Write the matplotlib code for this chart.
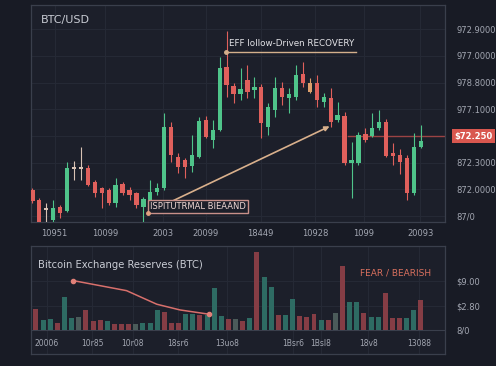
import matplotlib.pyplot as plt
import matplotlib.transforms as mtransforms
import numpy as np

# candles (open, high, low, close)
opens = [88300, 87800, 87350, 86800, 87450, 87250, 89400, 89350, 89415, 88715,
         88400, 88300, 87635, 88600, 88300, 88135, 87435, 87715, 88200, 88385,
         91465, 89965, 89800, 89515, 89965, 91800, 90800, 91300, 94465, 93500,
         93100, 93800, 93300, 93465, 91465, 92300, 93385, 92915, 92965, 94085,
         93635, 93635, 92715, 92885, 91800, 92000, 89635, 89635, 91085, 91015,
         91385, 91715, 90135, 90050, 89885, 88135, 90435]
highs = [88400, 87900, 87650, 87800, 87550, 89700, 89765, 90450, 89550, 88800,
         88465, 88400, 88900, 88715, 88465, 88215, 87950, 88800, 88650, 92135,
         91715, 90150, 89900, 91050, 91965, 92000, 91800, 94965, 96265, 93650,
         94400, 94550, 93965, 93600, 92650, 93965, 93715, 93385, 94550, 94715,
         93900, 94050, 93135, 93385, 92715, 92215, 90715, 91215, 91385, 92165,
         92300, 91850, 90635, 90335, 90050, 91135, 91550]
lows = [87650, 86700, 86700, 86600, 86900, 87200, 88800, 88800, 88500, 87965,
        87400, 87550, 87465, 88050, 87800, 87385, 86550, 87650, 88050, 88300,
        89715, 89150, 88900, 89215, 89900, 90900, 90385, 91250, 92965, 92650,
        92800, 92900, 92885, 90885, 91050, 91965, 92550, 92135, 92800, 93465,
        93150, 92465, 92465, 91465, 91715, 89550, 87885, 89550, 90715, 90965,
        91300, 89950, 89550, 89100, 87800, 88050, 90385]
closes = [87750, 86715, 87300, 87400, 87150, 89400, 89350, 89400, 88550, 88135,
          88150, 87635, 88550, 88165, 88050, 87550, 87850, 88215, 88400, 91465,
          90050, 89465, 89465, 90050, 91750, 90965, 91300, 94415, 93550, 93085,
          93350, 93200, 93465, 91635, 92465, 93385, 92965, 93085, 94050, 93635,
          93215, 92800, 92965, 91715, 92050, 89635, 89800, 91050, 90800, 91415,
          91715, 90000, 90000, 89715, 88135, 90465, 90765]

price_ticks = [87000, 88335, 89670, 91005, 92340, 93675, 95010, 96345]
price_labels = ["87/0", "872.0000", "872.3000", "", "977.1000", "978.8000", "977.0000", "972.9000"]
last_price = 91005
last_label = "$72.250"

top_xticks = [3.2, 10.5, 18.8, 25.0, 32.9, 40.8, 47.8, 55.9]
top_xlabels = ["10951", "10099", "2003", "20099", "18449", "10928", "1099", "20093"]

# exchange reserves bars
reserves = [20.7, 10, 11, 6.7, 32.7, 11.7, 13.3, 20, 9, 10,
            9.3, 6, 6, 6, 6, 6.7, 7.3, 20, 18.3, 6.7,
            6.7, 15.7, 16, 15, 15, 41.7, 14, 11, 10.5, 9,
            12.3, 78.3, 53.3, 42.7, 15, 15, 30.7, 14, 13.3, 15.7,
            10, 10, 16.7, 64.3, 27.7, 27.7, 17.3, 13.3, 13.3, 37.3,
            11.7, 11.7, 11.7, 20, 30]
bar_kind = "rttrttgrrrtrrrgtttrrrttrttt" + "rgrtrttrttrrrtrgrttrttrrrtt"
trend_x = [5.24, 12.7, 16.95, 20.2, 24.3]
trend_y = [49.3, 39.3, 25.7, 20, 15.7]
res_ticks = [0, 24.3, 49]
res_labels = ["8/0", "$2.80", "$9.00"]
bot_xticks = [1.54, 7.87, 13.6, 19.9, 26.8, 36.1, 40.0, 46.6, 53.7]
bot_xlabels = ["20006", "10r85", "10r08", "18sr6", "13uo8", "1Bsr6", "1Bsl8", "18v8", "13088"]

bg = "#181b25"
panel = "#1c1f2a"
grid_c = "#252935"
frame_c = "#3a3f4c"
txt_c = "#a3a7b2"
green = "#4fc48a"
red = "#e0605c"

fig = plt.figure(figsize=(4.96, 3.66), dpi=100, facecolor=bg)
ax = fig.add_axes([0.0625, 0.393, 0.835, 0.593], facecolor=panel)
ax2 = fig.add_axes([0.0625, 0.033, 0.835, 0.295], facecolor=panel)

for a in (ax, ax2):
    for s in a.spines.values():
        s.set_color(frame_c)
        s.set_linewidth(0.9)
    a.yaxis.tick_right()
    a.tick_params(length=0, colors=txt_c, labelsize=6)
    a.set_axisbelow(True)
    a.grid(color=grid_c, linewidth=0.8)

# candles
for i in range(len(opens)):
    o, h, l, c = opens[i], highs[i], lows[i], closes[i]
    if abs(c - o) < 100:
        col = "#d8c2b4"
    elif i == 40:
        col = "#dd9f6c"
    elif c > o:
        col = green
    else:
        col = red
    ax.vlines(i, l, h, color=col, linewidth=0.8, zorder=3)
    ax.bar(i, max(abs(c - o), 90), bottom=min(o, c), width=0.62, color=col, zorder=4)

ax.set_xlim(-0.2, 59.5)
ax.set_ylim(86700, 97550)
ax.set_yticks(price_ticks)
ax.set_yticklabels(price_labels)
ax.tick_params(axis="y", pad=8)
ax.set_xticks(top_xticks)
ax.set_xticklabels(top_xlabels)
ax.tick_params(axis="x", pad=5)

ax.text(0.024, 0.93, "BTC/USD", transform=ax.transAxes, color="#c9ccd4", fontsize=8, va="center")

# last price line + label
ax.plot([45.5, 59.5], [last_price, last_price], color="#b94a48", linewidth=1, alpha=0.8, zorder=2)
tr = mtransforms.blended_transform_factory(ax.transAxes, ax.transData)
ax.text(1.022, last_price, last_label, transform=tr, color="white", fontsize=6, va="center",
        fontweight="bold",
        bbox=dict(boxstyle="square,pad=0.3", facecolor="#d9574f", edgecolor="none"))

# annotations
ax.plot([27.9, 46.6], [95200, 95200], color="#d4b08c", linewidth=1, zorder=5)
ax.plot([27.9], [95200], "o", color="#d4b08c", markersize=2.5, zorder=5)
ax.text(28.4, 95650, "EFF lollow-Driven RECOVERY", color="#e2e2e6", fontsize=6.3, va="center")

ax.annotate("", xy=(43.2, 91550), xytext=(16.6, 87165),
            arrowprops=dict(arrowstyle="-|>", color="#d9b08c", lw=1.2, mutation_scale=7), zorder=6)
ax.plot([16.6], [87165], "o", color="#e0a080", markersize=2.5, zorder=7)
ax.text(16.9, 87500, "ISPITUTRMAL BIEAAND", color="#f0d8d4", fontsize=6, va="center", zorder=6,
        bbox=dict(boxstyle="square,pad=0.25", facecolor=panel, edgecolor="#c8908a", linewidth=1))

# bottom panel
kind_col = {"r": "#853d45", "t": "#2e6b63", "g": "#4b5b5a"}
xb = np.arange(len(reserves))
ax2.bar(xb, reserves, width=0.7, color=[kind_col[k] for k in bar_kind], zorder=3)
ax2.plot(trend_x, trend_y, color="#d8706c", linewidth=1.1, zorder=4)
ax2.plot([trend_x[0], trend_x[-1]], [trend_y[0], trend_y[-1]], "o", color="#e08078", markersize=3, zorder=5)
ax2.set_xlim(-0.7, 57.4)
ax2.set_ylim(-24, 84)
ax2.set_yticks(res_ticks)
ax2.set_yticklabels(res_labels)
ax2.tick_params(axis="y", pad=8)
ax2.set_xticks(bot_xticks)
ax2.set_xticklabels(bot_xlabels)
ax2.tick_params(axis="x", pad=-11, labelsize=5.5)
ax2.axhline(0, color="#3a3f4c", linewidth=0.8, zorder=2)
ax2.text(0.017, 0.82, "Bitcoin Exchange Reserves (BTC)", transform=ax2.transAxes,
         color="#c9ccd4", fontsize=7.2, va="center")
ax2.text(45.5, 57, "FEAR / BEARISH", color="#d9705e", fontsize=6.5, va="center")

fig.savefig("out.png", dpi=100, facecolor=bg)
